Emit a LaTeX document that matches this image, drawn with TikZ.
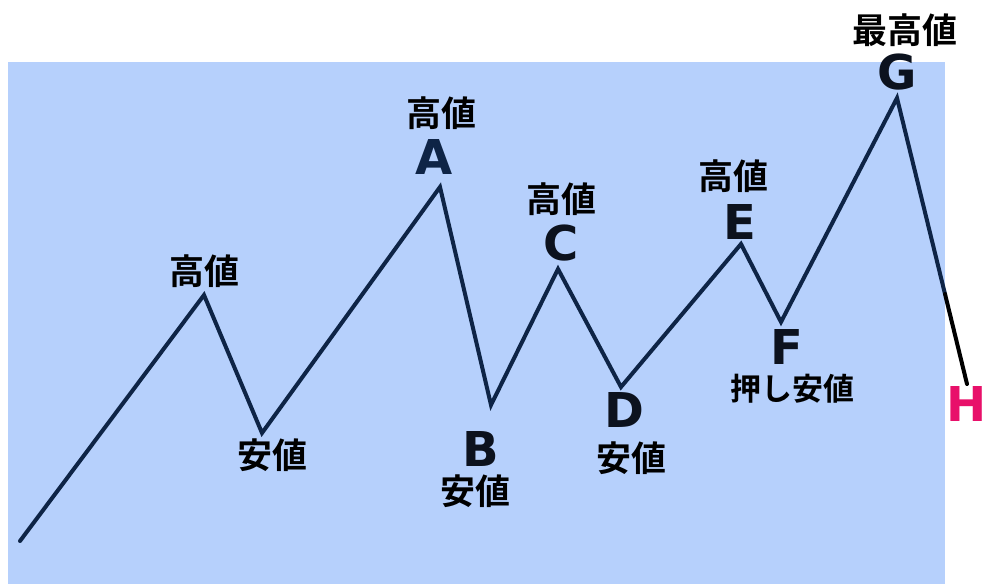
\documentclass[tikz,border=0pt]{standalone}
\usepackage{fontspec}
\newfontfamily\jp{Noto Sans CJK JP}[BoldFont={Noto Sans CJK JP Bold}]
\newfontfamily\lat{DejaVu Sans}
\definecolor{bgblue}{RGB}{182,208,252}
\definecolor{navy}{RGB}{14,36,70}
\definecolor{letterdark}{RGB}{12,18,30}
\definecolor{hpink}{RGB}{232,16,106}
\begin{document}
\begin{tikzpicture}[x=1pt,y=-1pt,
  jplabel/.style={font=\jp\bfseries\fontsize{35}{35}\selectfont, text=black, inner sep=0pt},
  letter/.style={font=\lat\bfseries\fontsize{48}{48}\selectfont, text=letterdark, inner sep=0pt},
  wave/.style={draw=navy, line width=4pt, line join=miter, line cap=round}]
\useasboundingbox (0,0) rectangle (984,584);
\fill[bgblue] (8,62) rectangle (945,584);
% points
\coordinate (S) at (20,541);
\coordinate (P1) at (204,295);
\coordinate (P2) at (262,433);
\coordinate (A) at (440,187);
\coordinate (B) at (491,405);
\coordinate (C) at (558,269);
\coordinate (D) at (621,387);
\coordinate (E) at (741,244);
\coordinate (F) at (781,322);
\coordinate (G) at (897,98);
\coordinate (X) at (945,294);
\coordinate (H) at (967,384);
\draw[wave] (S) -- (P1) -- (P2) -- (A) -- (B) -- (C) -- (D) -- (E) -- (F) -- (G) -- (X);
\draw[draw=black, line width=4pt, line cap=round] (X) -- (H);
% labels
\node[jplabel] (l1) at (204,271) {高値};
\node[jplabel] (l2) at (272,455) {安値};
\node[letter, text=navy] (la) at (434,157) {A};
\node[jplabel] (lah) at (441,113) {高値};
\node[letter] (lb) at (481,449) {B};
\node[jplabel] (lbl) at (475,491) {安値};
\node[letter] (lc) at (561,243) {C};
\node[jplabel] (lch) at (561,199) {高値};
\node[letter] (ld) at (624,410) {D};
\node[jplabel] (ldl) at (631,458) {安値};
\node[letter] (le) at (740,222) {E};
\node[jplabel] (leh) at (733,176) {高値};
\node[letter] (lf) at (787,347) {F};
\node[jplabel, font=\jp\bfseries\fontsize{31}{31}\selectfont] (lfl) at (792,389) {押し安値};
\node[letter] (lg) at (897,72) {G};
\node[jplabel] (lgh) at (905,30) {最高値};
\node[letter, text=hpink] (lh) at (967,404) {H};
\end{tikzpicture}
\end{document}
